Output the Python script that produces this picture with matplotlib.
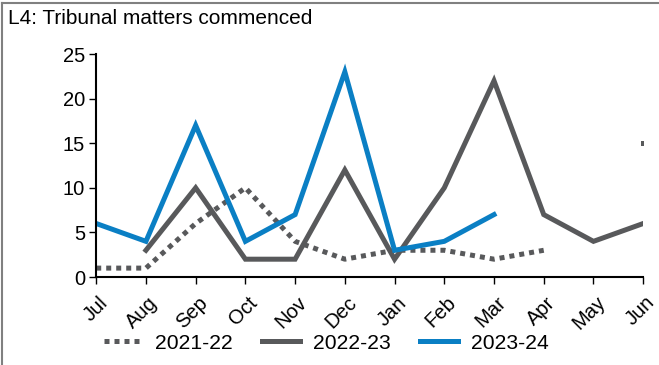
import matplotlib
matplotlib.use("Agg")
import matplotlib.pyplot as plt
import matplotlib.transforms as mtransforms
import numpy as np
from matplotlib.lines import Line2D

plt.rcParams['font.family'] = ['Liberation Sans', 'DejaVu Sans']

months = ["Jul", "Aug", "Sep", "Oct", "Nov", "Dec", "Jan", "Feb", "Mar", "Apr", "May", "Jun"]
s2122 = [1, 1, 6, 10, 4, 2, 3, 3, 2, 3, np.nan, 15]
s2223 = [np.nan, 3, 10, 2, 2, 12, 2, 10, 22, 7, 4, 6]
s2324 = [6, 4, 17, 4, 7, 23, 3, 4, 7, np.nan, np.nan, np.nan]
yticks = [0, 5, 10, 15, 20, 25]

gray = "#58595B"
blue = "#0A7FC4"

fig = plt.figure(figsize=(6.59, 3.65), dpi=100)
ax = fig.add_axes([0.146, 0.241, 0.830, 0.611])
x = np.arange(len(months))

ax.plot(x, s2122, color=gray, lw=3.6, linestyle=(0, (1, 1)), dash_capstyle='butt',
        solid_joinstyle='miter', label="2021-22")
# isolated last value of 2021-22 (neighbour missing)
ax.plot(x[11:], s2122[11:], color=gray, lw=0, marker='s', markersize=3.6, markeredgewidth=0)
ax.plot(x, s2223, color=gray, lw=3.6, label="2022-23", solid_joinstyle='miter')
ax.plot(x, s2324, color=blue, lw=3.6, label="2023-24", solid_joinstyle='miter')

ax.set_xlim(0, 11)
ax.set_ylim(0, 25)
ax.set_yticks(yticks)
ax.set_xticks(x)
ax.set_xticklabels(months, rotation=45, ha='right', rotation_mode='anchor')
ax.tick_params(axis='both', labelsize=14.5, direction='out', length=5, width=1, color='black')
ax.tick_params(axis='y', pad=3)
ax.tick_params(axis='x', labelsize=14.5, pad=5)
offset = mtransforms.ScaledTranslation(2 / 100, -2 / 100, fig.dpi_scale_trans)
for lab in ax.get_xticklabels():
    lab.set_transform(lab.get_transform() + offset)
for s in ['top', 'right']:
    ax.spines[s].set_visible(False)
ax.spines['left'].set_linewidth(1.5)
ax.spines['bottom'].set_linewidth(1.5)

fig.text(0.012, 0.95, "L4: Tribunal matters commenced", fontsize=15, ha='left', va='center')

leg = fig.legend(loc='center', bbox_to_anchor=(0.495, 0.06), ncol=3, frameon=False,
                 fontsize=15.2, handlelength=1.8, columnspacing=1.4, handletextpad=0.6)

fig.lines.append(Line2D([0.003, 0.003], [0, 0.992], transform=fig.transFigure,
                        color='#808080', lw=1.5))
fig.lines.append(Line2D([0.003, 1.0], [0.992, 0.992], transform=fig.transFigure,
                        color='#808080', lw=1.5))

fig.savefig("out.png", dpi=100)
